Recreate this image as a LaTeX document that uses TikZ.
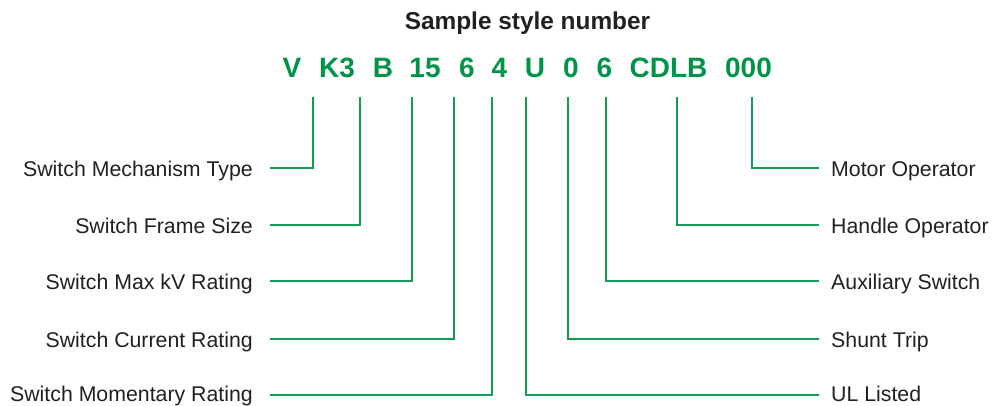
\documentclass[tikz,border=0pt]{standalone}
\usepackage{fontspec}
\setmainfont{Liberation Sans}
\definecolor{codegreen}{RGB}{0,148,72}
\definecolor{linegreen}{RGB}{20,155,85}
\definecolor{txt}{RGB}{35,31,32}
\begin{document}
\begin{tikzpicture}[x=1pt,y=-1pt,
  hdr/.style={inner sep=0pt,text=txt,font=\fontsize{24.4}{28}\selectfont\bfseries},
  codetxt/.style={inner sep=0pt,text=codegreen,font=\fontsize{28}{32}\selectfont\bfseries},
  lbl/.style={inner sep=0pt,text=txt,font=\fontsize{21.3}{25}\selectfont},
  lnk/.style={draw=linegreen,line width=2pt}]
\useasboundingbox (0,0) rectangle (992,406);
\node[hdr,anchor=base] (title) at (527.5,30) {Sample style number};
% code
\node[codetxt,anchor=base] (c1) at (292,78) {V};
\node[codetxt,anchor=base] (c2) at (337,78) {K3};
\node[codetxt,anchor=base] (c3) at (383,78) {B};
\node[codetxt,anchor=base] (c4) at (425,78) {15};
\node[codetxt,anchor=base] (c5) at (467,78) {6};
\node[codetxt,anchor=base] (c6) at (499.5,78) {4};
\node[codetxt,anchor=base] (c7) at (535,78) {U};
\node[codetxt,anchor=base] (c8) at (571,78) {0};
\node[codetxt,anchor=base] (c9) at (604.5,78) {6};
\node[codetxt,anchor=base] (c10) at (668.5,78) {CDLB};
\node[codetxt,anchor=base] (c11) at (748.5,78) {000};
% left labels
\node[lbl,anchor=base east] (l1) at (253,176) {Switch Mechanism Type};
\node[lbl,anchor=base east] (l2) at (253,233) {Switch Frame Size};
\node[lbl,anchor=base east] (l3) at (253,289) {Switch Max kV Rating};
\node[lbl,anchor=base east] (l4) at (253,347) {Switch Current Rating};
\node[lbl,anchor=base east] (l5) at (253,401) {Switch Momentary Rating};
% right labels
\node[lbl,anchor=base west] (r1) at (831,176) {Motor Operator};
\node[lbl,anchor=base west] (r2) at (831,233) {Handle Operator};
\node[lbl,anchor=base west] (r3) at (831,289) {Auxiliary Switch};
\node[lbl,anchor=base west] (r4) at (831,347) {Shunt Trip};
\node[lbl,anchor=base west] (r5) at (831,401) {UL Listed};
% connector tops and ends
\coordinate (t1) at (313.3,97);
\coordinate (t2) at (360,97);
\coordinate (t3) at (411.7,97);
\coordinate (t4) at (454.3,97);
\coordinate (t5) at (492.3,97);
\coordinate (t6) at (526,97);
\coordinate (t7) at (567.7,97);
\coordinate (t8) at (606.3,97);
\coordinate (t9) at (677.3,97);
\coordinate (t10) at (752.3,97);
\coordinate (e1) at (270,168);
\coordinate (e2) at (270,225);
\coordinate (e3) at (270,281);
\coordinate (e4) at (270,339);
\coordinate (e5) at (270,395);
\coordinate (f1) at (819,168);
\coordinate (f2) at (819,225);
\coordinate (f3) at (819,281);
\coordinate (f4) at (819,339);
\coordinate (f5) at (819,395);
\draw[lnk] (t1) |- (e1);
\draw[lnk] (t2) |- (e2);
\draw[lnk] (t3) |- (e3);
\draw[lnk] (t4) |- (e4);
\draw[lnk] (t5) |- (e5);
\draw[lnk] (t6) |- (f5);
\draw[lnk] (t7) |- (f4);
\draw[lnk] (t8) |- (f3);
\draw[lnk] (t9) |- (f2);
\draw[lnk] (t10) |- (f1);
\end{tikzpicture}
\end{document}
